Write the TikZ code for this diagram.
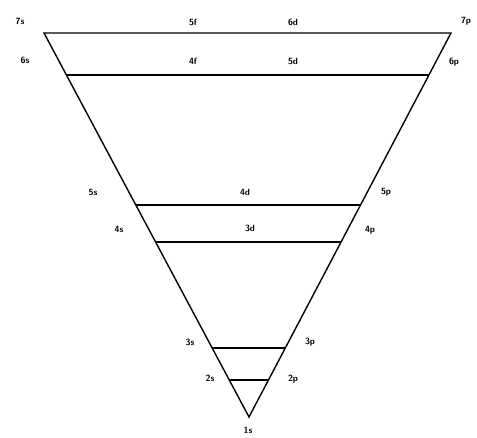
\documentclass[tikz,border=0pt]{standalone}
\usepackage{tikz}
\usetikzlibrary{calc}

\begin{document}
\begin{tikzpicture}[
  x=1pt, y=-1pt,
  every node/.style={font=\sffamily\bfseries\small, inner sep=1pt},
  shell/.style={line width=1.4pt, line join=miter},
  level/.style={line width=1.3pt}
]
\useasboundingbox (0,0) rectangle (477,438);

\coordinate (tl)   at (44,33);
\coordinate (tr)   at (451,33);
\coordinate (apex) at (249,417);
\draw[shell] (tl) -- (tr) -- (apex) -- cycle;

% sublevel lines across the triangle
\foreach \name/\y in {six/75, five/205, four/242, three/348, two/380} {
  \coordinate (\name l) at ($(tl)!{(\y-33)/384}!(apex)$);
  \coordinate (\name r) at ($(tr)!{(\y-33)/384}!(apex)$);
  \draw[level] (\name l) -- (\name r);
}

% orbital labels
\foreach \lbl/\x/\y in {7s/20/21, 6s/25/60, 5f/193/22, 6d/293/22, 7p/466/21,
                        4f/193/61, 5d/293/61, 6p/454/62,
                        5s/93/192, 4d/245/192, 5p/386/192,
                        4s/119/229, 3d/250/228, 4p/370/230,
                        3s/190/342, 3p/310/342, 2s/210/378, 2p/293/379, 1s/248/430}
  \node (o\lbl) at (\x,\y) {\lbl};
\end{tikzpicture}
\end{document}
